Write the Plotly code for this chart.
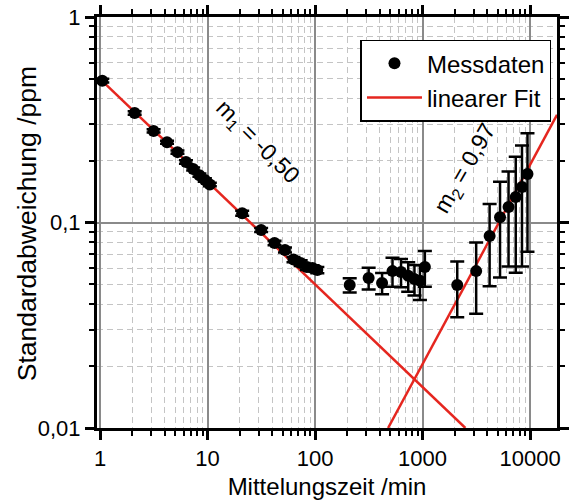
import numpy as np
import plotly.graph_objects as go

# Mittelungszeit /min
zeit = [1.05, 2.1, 3.15, 4.2, 5.25, 6.3, 7.35, 8.4, 9.45, 10.5,
        21, 31.5, 42, 52.5, 63, 73.5, 84, 94.5, 105,
        210, 315, 420, 525, 630, 735, 840, 945, 1050,
        2100, 3150, 4200, 5250, 6300, 7350, 8400, 9450]
# Standardabweichung /ppm
sigma = [0.49, 0.341, 0.279, 0.246, 0.220, 0.197, 0.182, 0.170, 0.161, 0.153,
         0.111, 0.092, 0.0794, 0.0735, 0.066, 0.0635, 0.0607, 0.060, 0.0587,
         0.0496, 0.0537, 0.0508, 0.058, 0.0574, 0.055, 0.0531, 0.052, 0.0607,
         0.0496, 0.058, 0.086, 0.106, 0.119, 0.133, 0.149, 0.172]
fehler = [0.010, 0.007, 0.005, 0.004, 0.004, 0.004, 0.003, 0.003, 0.003, 0.003,
          0.003, 0.002, 0.002, 0.002, 0.002, 0.002, 0.002, 0.002, 0.002,
          0.004, 0.0065, 0.006, 0.0093, 0.009, 0.009, 0.009, 0.010, 0.012,
          0.015, 0.022, 0.037, 0.052, 0.058, 0.076, 0.088, 0.10]

# linear fits in log-log: y = a * x^m
m1, a1 = -0.50, 0.5
m2, a2 = 0.97, 2.52e-5

x_ticks = [1, 10, 100, 1000, 10000]
x_ticktext = ["1", "10", "100", "1000", "10000"]
y_ticks = [0.01, 0.1, 1]
y_ticktext = ["0,01", "0,1", "1"]

x_range_log = [-0.028, 4.25]
y_range_log = [-2, 0]
y_min = 10 ** y_range_log[0]
x_max = 10 ** x_range_log[1]

fit1_x = np.logspace(0, np.log10((y_min / a1) ** (1 / m1)), 50)
fit1_y = a1 * fit1_x ** m1
fit2_x = np.logspace(np.log10((y_min / a2) ** (1 / m2)), np.log10(x_max), 50)
fit2_y = a2 * fit2_x ** m2

red = "#e5261f"
font = "Arial, Liberation Sans, sans-serif"

fig = go.Figure()
fig.add_trace(go.Scatter(
    x=fit1_x, y=fit1_y, mode="lines", name="linearer Fit",
    line=dict(color=red, width=2.5), showlegend=False))
fig.add_trace(go.Scatter(
    x=fit2_x, y=fit2_y, mode="lines", name="linearer Fit",
    line=dict(color=red, width=2.5), showlegend=False))
fig.add_trace(go.Scatter(
    x=zeit, y=sigma, mode="markers", name="Messdaten",
    marker=dict(color="black", size=12),
    error_y=dict(type="data", array=fehler, color="black", thickness=2.5, width=7)))
fig.add_trace(go.Scatter(
    x=[None], y=[None], mode="lines", name="linearer Fit",
    line=dict(color=red, width=2.5)))

minor_x = [k * 10 ** d for d in range(0, 5) for k in range(2, 10)]
minor_y = [k * 10 ** d for d in range(-2, 0) for k in range(2, 10)]

axis_common = dict(
    showline=True, linecolor="black", linewidth=3, mirror="ticks",
    ticks="outside", ticklen=9, tickwidth=2.5, tickcolor="black",
    showgrid=True, gridcolor="#8a8a8a", gridwidth=2,
    tickfont=dict(family=font, size=22, color="black"),
    zeroline=False, automargin=False,
)

fig.update_xaxes(
    type="log", range=x_range_log,
    tickmode="array", tickvals=x_ticks, ticktext=x_ticktext,
    minor=dict(tickmode="array", tickvals=minor_x, ticks="outside", ticklen=5,
               tickwidth=2, tickcolor="black", showgrid=True,
               gridcolor="#c4c4c4", gridwidth=1, griddash="6px,4px"),
    title=dict(text="Mittelungszeit /min", font=dict(family=font, size=24, color="black"),
               standoff=8),
    **axis_common)
fig.update_yaxes(
    type="log", range=y_range_log,
    tickmode="array", tickvals=y_ticks, ticktext=y_ticktext,
    minor=dict(tickmode="array", tickvals=minor_y, ticks="outside", ticklen=5,
               tickwidth=2, tickcolor="black", showgrid=True,
               gridcolor="#c4c4c4", gridwidth=1, griddash="6px,4px"),
    **axis_common)

# y-axis title placed as a rotated annotation for exact positioning
fig.add_annotation(x=-0.152, y=0.496, xref="paper", yref="paper",
                   text="Standardabweichung /ppm", showarrow=False, textangle=-90,
                   xanchor="center", yanchor="middle",
                   font=dict(family=font, size=26.5, color="black"))

fig.add_annotation(x=np.log10(29), y=np.log10(0.246), xref="x", yref="y",
                   text="m<sub>1</sub> = -0,50", showarrow=False, textangle=45,
                   font=dict(family=font, size=23, color="black"))
fig.add_annotation(x=np.log10(2480), y=np.log10(0.182), xref="x", yref="y",
                   text="m<sub>2</sub> = 0,97", showarrow=False, textangle=-60,
                   font=dict(family=font, size=23, color="black"))

fig.update_layout(
    width=571, height=502,
    margin=dict(l=97, r=14, t=17, b=74),
    paper_bgcolor="white", plot_bgcolor="white",
    font=dict(family=font, color="black"),
    legend=dict(x=0.988, y=0.945, xanchor="right", yanchor="top",
                bgcolor="white", bordercolor="black", borderwidth=1.5,
                font=dict(family=font, size=24, color="black"),
                tracegroupgap=0, itemwidth=55),
)

fig.write_html("out.html", config={"displayModeBar": False},
               post_script="document.body.style.margin='0';")
